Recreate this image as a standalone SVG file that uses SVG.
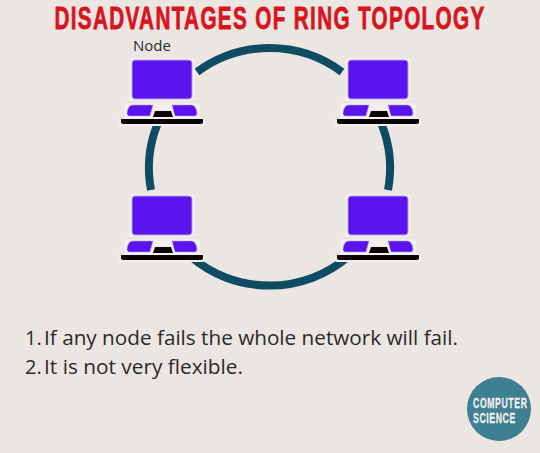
<svg xmlns="http://www.w3.org/2000/svg" width="540" height="453" viewBox="0 0 540 453">
<style>
.ring{fill:none;stroke:#0f4c63;stroke-width:8}
.halo{fill:#f2efec}
.screen{fill:#5a14f0;stroke:#b9a4e8;stroke-width:1}
.kbd{fill:#5a14f0;stroke:#b9a4e8;stroke-width:.6}
.blk{fill:#0a0608}
.t{font-family:"Open Sans","Noto Sans",sans-serif;fill:#2a2a2a}
.title{font-family:"Liberation Sans",sans-serif;font-weight:700;fill:#d8141f;stroke:#d8141f;stroke-width:.8;font-size:31px;letter-spacing:2px;text-anchor:middle}
.logo{font-family:"Liberation Sans",sans-serif;font-weight:700;fill:#f2f0ee;stroke:#f2f0ee;stroke-width:.3;font-size:14px;letter-spacing:1px}
</style>
<defs>
<g id="laptop">
<rect class="halo" x="-3" y="-2" width="66" height="43" rx="3"/>
<rect class="halo" x="-8" y="43" width="76" height="16" rx="3"/>
<rect class="halo" x="-13" y="58" width="86" height="8" rx="2"/>
<rect class="screen" x="0" y="0" width="60" height="39" rx="3"/>
<path class="kbd" d="M-5 53Q-5 50 -3 47Q-2 45 1 45H21L18 56H-3Q-5 56 -5 53ZM65 53Q65 50 63 47Q62 45 59 45H40L43 56H63Q65 56 65 53Z"/>
<path class="blk" d="M21 57L23 51H39L41 57Z"/>
<path class="blk" d="M-11 59H71V62Q71 64 69 64H-9Q-11 64 -11 62Z"/>
</g>
</defs>
<rect width="540" height="453" fill="#ebe6e2"/>
<text class="title" transform="translate(270,29) scale(.668,1)">DISADVANTAGES OF RING TOPOLOGY</text>
<g id="connectors">
<path class="ring" d="M197 72A120.500 119 0 0 1 342 72"/>
<path class="ring" d="M381.500 124A120.500 119 0 0 1 388 190"/>
<path class="ring" d="M157.500 124A120.500 119 0 0 0 151 190"/>
<path class="ring" d="M190 256A120.500 119 0 0 0 349 256"/>
</g>
<g id="node-1" transform="translate(132,60)"><use href="#laptop"/></g>
<g id="node-2" transform="translate(348,60)"><use href="#laptop"/></g>
<g id="node-3" transform="translate(132,196)"><use href="#laptop"/></g>
<g id="node-4" transform="translate(348,196)"><use href="#laptop"/></g>
<text class="t" x="133" y="51" font-size="15">Node</text>
<text class="t" x="25" y="345" font-size="20">1.</text>
<text class="t" x="44" y="345" font-size="20" textLength="414" lengthAdjust="spacingAndGlyphs">If any node fails the whole network will fail.</text>
<text class="t" x="25" y="374" font-size="20">2.</text>
<text class="t" x="44" y="374" font-size="20" textLength="199" lengthAdjust="spacingAndGlyphs">It is not very flexible.</text>
<g id="logo">
<circle cx="499" cy="409" r="32" fill="#3f7f92"/>
<text class="logo" transform="translate(473,408) scale(.62,1)">COMPUTER</text>
<text class="logo" transform="translate(473,423) scale(.62,1)">SCIENCE</text>
</g>
</svg>
